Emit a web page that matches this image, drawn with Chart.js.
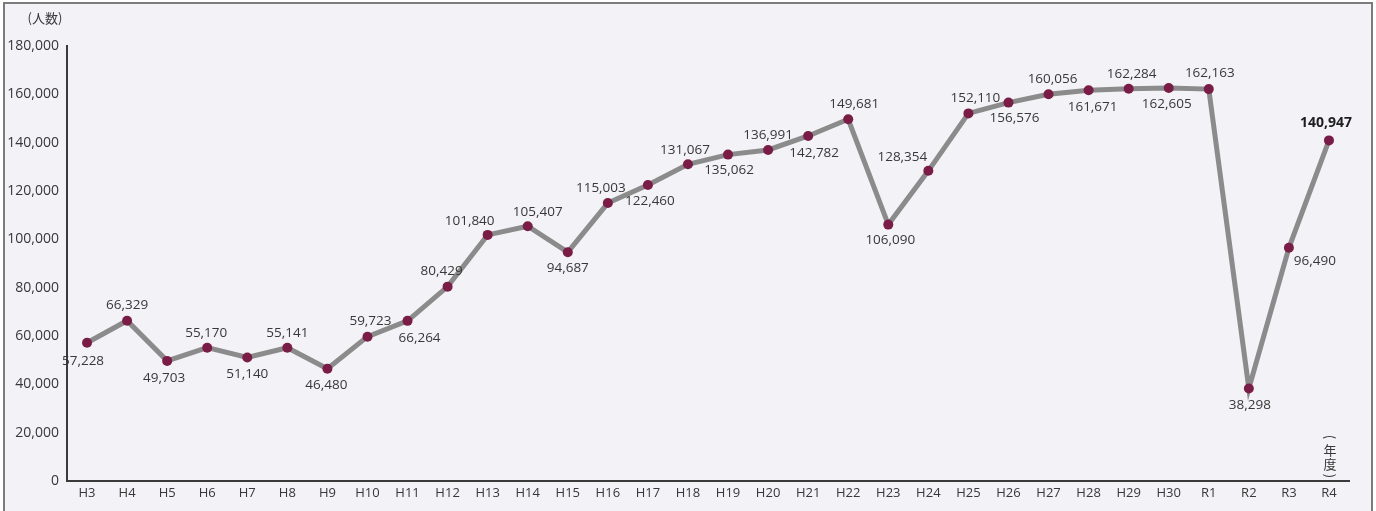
<!DOCTYPE html>
<html>
<head>
<meta charset="utf-8">
<script src="https://cdn.jsdelivr.net/npm/chart.js@4"></script>
<style>
  body { margin: 0; background: #fff; }
  #frame {
    position: absolute; left: 3px; top: 2px; width: 1366px; height: 520px;
    border: 2px solid #7c7c7c; background: #f2f2f7;
  }
  #wrap { position: absolute; left: 0; top: 0; width: 1376px; height: 511px; }
</style>
</head>
<body>
<div id="frame"></div>
<div id="wrap"><canvas id="myGraph"></canvas></div>
<script>
"use strict";

// fiscal years (Heisei / Reiwa)
const years = [
    "H3", "H4", "H5", "H6", "H7", "H8", "H9", "H10", "H11", "H12",
    "H13", "H14", "H15", "H16", "H17", "H18", "H19", "H20", "H21", "H22",
    "H23", "H24", "H25", "H26", "H27", "H28", "H29", "H30", "R1", "R2",
    "R3", "R4"
];
const people = [
    57228, 66329, 49703, 55170, 51140, 55141, 46480, 59723, 66264, 80429,
    101840, 105407, 94687, 115003, 122460, 131067, 135062, 136991, 142782, 149681,
    106090, 128354, 152110, 156576, 160056, 161671, 162284, 162605, 162163, 38298,
    96490, 140947
];
const yTicks = [0, 20000, 40000, 60000, 80000, 100000, 120000, 140000, 160000, 180000];

// where each value label sits relative to its point [dx, dy]
const labelOffsets = [
    [-4, 18], [0, -16], [-3, 17], [-1, -15], [0, 17], [0, -15], [-1, 16], [3, -16], [12, 17], [-6, -15],
    [-18, -14], [10, -14], [0, 16], [-7, -15], [2, 16], [-3, -14], [1, 16], [0, -15], [6, 17], [6, -15],
    [2, 16], [-26, -14], [7, -15], [6, 16], [4, -15], [4, 17], [3, -15], [-2, 16], [1, -16], [1, 17],
    [26, 13], [-3, -17]
];

const fmt = (v) => v.toLocaleString("en-US");

const valueLabels = {
    id: "valueLabels",
    afterDatasetsDraw(chart) {
        const ctx = chart.ctx;
        const meta = chart.getDatasetMeta(0);
        ctx.save();
        ctx.textAlign = "center";
        ctx.textBaseline = "middle";
        for (let i = 0; i < meta.data.length; i++) {
            const pt = meta.data[i];
            const last = i === meta.data.length - 1;
            ctx.font = last ? "bold 14px 'Open Sans'" : "13.5px 'Open Sans'";
            ctx.fillStyle = last ? "#1e1e1e" : "#383838";
            ctx.fillText(fmt(people[i]), pt.x + labelOffsets[i][0], pt.y + labelOffsets[i][1]);
        }
        // axis unit titles
        ctx.font = "13px 'Noto Sans CJK JP'";
        ctx.fillStyle = "#383838";
        ctx.fillText("(人数)", 45, 18);

        const xr = meta.data[meta.data.length - 1].x + 1;
        ctx.font = "13px 'Noto Sans CJK JP'";
        ctx.save();
        ctx.translate(xr, 437);
        ctx.rotate(Math.PI / 2);
        ctx.fillText("(", 0, 0);
        ctx.restore();
        ctx.fillText("年", xr, 450);
        ctx.fillText("度", xr, 464);
        ctx.save();
        ctx.translate(xr, 476);
        ctx.rotate(Math.PI / 2);
        ctx.fillText(")", 0, 0);
        ctx.restore();
        ctx.restore();
    }
};

const data = {
    labels: years,
    datasets: [
        {
            label: "人数",
            data: people,
            borderColor: "#8b8b8b",
            borderWidth: 5,
            pointBackgroundColor: "#7a1d46",
            pointBorderWidth: 0,
            pointRadius: 5,
            tension: 0,
        },
    ],
};

const config = {
    type: "line",
    data: data,
    options: {
        responsive: false,
        animation: false,
        layout: { padding: { left: 0, top: 46, right: 27, bottom: 0 } },
        plugins: { legend: { display: false }, tooltip: { enabled: false } },
        scales: {
            x: {
                offset: true,
                grid: { display: false, drawTicks: false },
                border: { display: true, color: "#3a3a3a", width: 2 },
                ticks: { color: "#383838", font: { family: "'Open Sans'", size: 13 }, padding: 4, maxRotation: 0, autoSkip: false },
                afterFit(scale) { scale.height = 30; },
            },
            y: {
                min: 0,
                max: 180000,
                afterBuildTicks(scale) { scale.ticks = yTicks.map((v) => ({ value: v })); },
                grid: { display: false, drawTicks: false },
                border: { display: true, color: "#3a3a3a", width: 2 },
                ticks: { color: "#383838", font: { family: "'Open Sans'", size: 14 }, padding: 8, callback: (v) => fmt(v) },
                afterFit(scale) { scale.width = 67; },
            },
        },
    },
    plugins: [valueLabels],
};

const canvasChart = document.getElementById("myGraph");
canvasChart.width = 1376;
canvasChart.height = 511;
new Chart(canvasChart, config);
</script>
</body>
</html>
